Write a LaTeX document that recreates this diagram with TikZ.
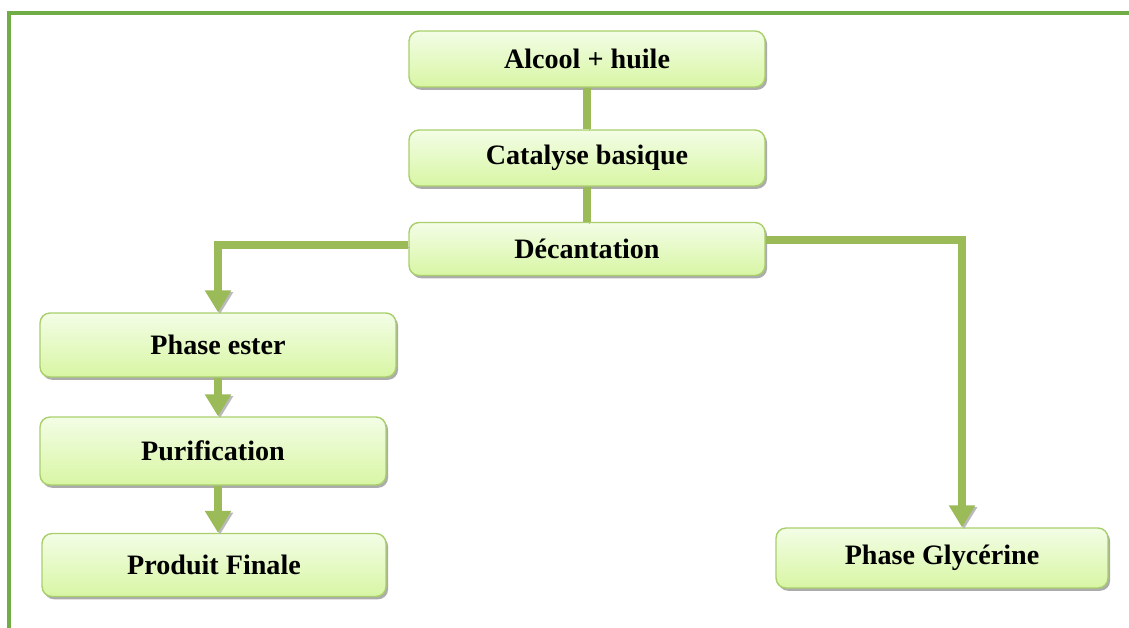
\documentclass[tikz,border=0pt]{standalone}
\usepackage{fontspec}
\setmainfont{Liberation Serif}
\usepackage{xcolor}
\usepackage{tikz}
\usetikzlibrary{arrows.meta, positioning, shadows, calc}

\definecolor{framegreen}{HTML}{70AD47}
\definecolor{linkgreen}{HTML}{9BBB59}
\definecolor{boxline}{HTML}{A9CF6C}
\definecolor{boxtop}{HTML}{F3FDE6}
\definecolor{boxbot}{HTML}{D8F6A4}

\begin{document}
\begin{tikzpicture}[
    x=0.02cm, y=-0.02cm,
    every node/.style={font=\fontsize{16}{19}\selectfont\bfseries},
    stepbox/.style={rectangle, draw=boxline, line width=0.8pt, rounded corners=0.2cm,
        top color=boxtop, bottom color=boxbot, minimum width=7.12cm, minimum height=1.12cm,
        drop shadow={shadow xshift=1.2pt, shadow yshift=-1.6pt, fill=gray!65, opacity=1},
        align=center},
    link/.style={line width=4.5pt, draw=linkgreen,
        preaction={draw=gray!55, transform canvas={shift={(1.1pt,-1.1pt)}}}},
    linkarrow/.style={link, -{Triangle[length=0.44cm, width=0.5cm]}},
    framestyle/.style={draw=framegreen, line width=2.2pt}
]
\useasboundingbox (0,0) rectangle (1129,628);

% ── outer frame ──
\draw[framestyle] (9,628) -- (9,13) -- (1129,13);

% ── main chain ──
\node[stepbox] (alcool) at (587,59) {Alcool + huile};
\node[stepbox] (cata)   at (587,158) {Catalyse basique};
\node[stepbox, minimum height=1.06cm] (decant) at (587,249) {Décantation};

\draw[link] (alcool) -- (cata);
\draw[link] (cata) -- (decant);

% ── ester branch ──
\node[stepbox, minimum height=1.28cm] (ester) at (218,345) {Phase ester};
\node[stepbox, minimum width=6.92cm, minimum height=1.36cm] (purif) at (213,451) {Purification};
\node[stepbox, minimum width=6.88cm, minimum height=1.26cm] (final) at (214,565) {Produit Finale};

\draw[linkarrow] ([yshift=0.08cm]decant.west) -| (ester.north);
\draw[linkarrow] (ester.south) -- (ester.south |- purif.north);
\draw[linkarrow] (ester.south |- purif.south) -- (ester.south |- final.north);

% ── glycerine branch ──
\node[stepbox, minimum width=6.64cm, minimum height=1.2cm] (glyc) at (942,558) {Phase Glycérine};
\coordinate (glyctop) at ([xshift=0.4cm]glyc.north);

\draw[linkarrow] ([yshift=0.18cm]decant.east) -| (glyctop);

\end{tikzpicture}
\end{document}
